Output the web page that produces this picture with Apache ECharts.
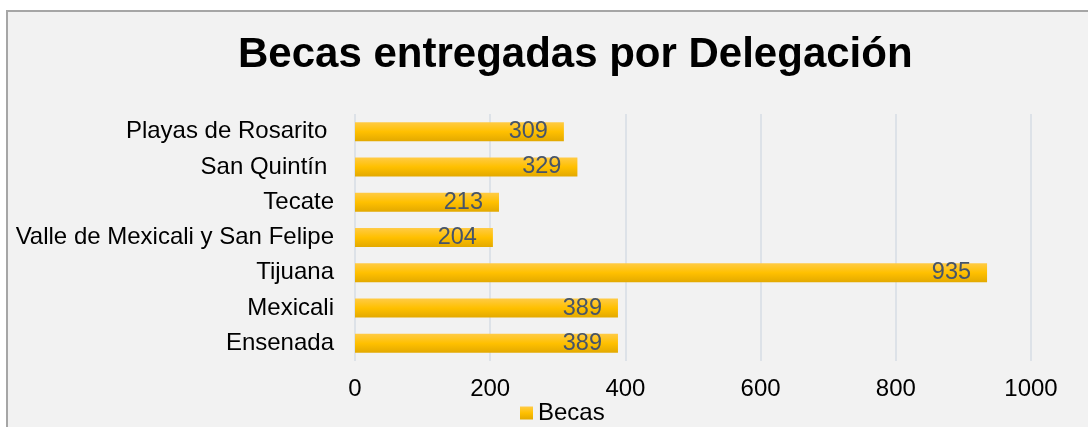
<!DOCTYPE html>
<html>
<head>
<meta charset="utf-8">
<script src="https://cdn.jsdelivr.net/npm/echarts@6/dist/echarts.min.js"></script>
<style>
html,body{margin:0;padding:0;background:#fff;}
#chart{width:1088px;height:427px;}
</style>
</head>
<body>
<div id="chart"></div>
<script>
const categories = ["Ensenada", "Mexicali", "Tijuana", "Valle de Mexicali y San Felipe", "Tecate", "San Quintín ", "Playas de Rosarito "];
const becas = [389, 389, 935, 204, 213, 329, 309];
const xTicks = [0, 200, 400, 600, 800, 1000];
const titleText = "Becas entregadas por Delegación";
const seriesName = "Becas";

const chart = echarts.init(document.getElementById('chart'));
const barColor = new echarts.graphic.LinearGradient(0, 0, 0, 1, [
  {offset: 0, color: '#ffcb45'},
  {offset: 0.5, color: '#ffc000'},
  {offset: 1, color: '#e3a900'}
]);
chart.setOption({
  backgroundColor: '#ffffff',
  animation: false,
  textStyle: {fontFamily: 'Liberation Sans, Arial, sans-serif'},
  graphic: [{
    type: 'rect', z: -10, silent: true,
    shape: {x: 7, y: 11, width: 1100, height: 440},
    style: {fill: '#f2f2f2', stroke: '#a6a6a6', lineWidth: 2}
  }],
  title: {
    text: titleText,
    left: 233, top: 29,
    textStyle: {fontSize: 42, fontWeight: 'bold', color: '#000', fontFamily: 'Liberation Sans, Arial, sans-serif'}
  },
  legend: {
    data: [seriesName], top: 401, left: 520, padding: 0,
    itemWidth: 13, itemHeight: 13, icon: 'rect', itemGap: 4,
    textStyle: {fontSize: 24, color: '#000'}
  },
  grid: {left: 355, right: 57, top: 114, bottom: 66, containLabel: false},
  xAxis: {
    type: 'value', min: xTicks[0], max: xTicks[xTicks.length - 1], interval: 200,
    axisLine: {show: false}, axisTick: {show: false},
    axisLabel: {fontSize: 24, color: '#000', margin: 16, formatter: v => String(v)},
    splitLine: {show: true, lineStyle: {color: '#dde2e8', width: 2}}
  },
  yAxis: {
    type: 'category', data: categories,
    axisLine: {show: false}, axisTick: {show: false},
    axisLabel: {fontSize: 24, color: '#000', margin: 21}
  },
  series: [{
    name: seriesName, type: 'bar', data: becas, barWidth: 19,
    itemStyle: {color: barColor},
    label: {show: true, position: 'insideRight', distance: 16, fontSize: 23.5, color: '#46546a'}
  }]
});
</script>
</body>
</html>
